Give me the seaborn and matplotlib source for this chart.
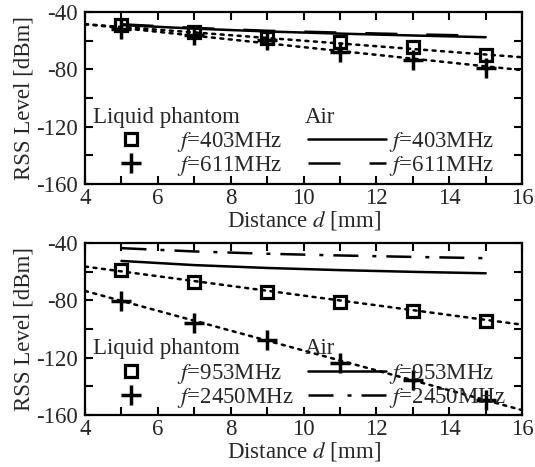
import seaborn as sns
import numpy as np
import matplotlib.pyplot as plt
from matplotlib.lines import Line2D
from matplotlib.ticker import MultipleLocator

sns.set_style("ticks")
plt.rcParams['font.family'] = ['Liberation Serif', 'DejaVu Serif']
plt.rcParams['mathtext.fontset'] = 'stix'
plt.rcParams['axes.unicode_minus'] = False

# measured points (distance in mm)
dist = [5, 7, 9, 11, 13, 15]
fit_x = [4, 16]

# upper panel
liq_403 = [-49, -54, -58, -61, -64.5, -70]
liq_611 = [-52, -56, -59.5, -68, -73.5, -79]
fit_403 = [-48.4, -71.5]
fit_611 = [-48.4, -80.5]
air_403 = [-49, -51.5, -53.5, -55, -56.3, -57.5]
air_611 = [-48.5, -51, -53, -54.3, -55.5, -56.5]

# lower panel
liq_953 = [-58.8, -67.4, -74, -81, -87.2, -94.2]
liq_2450 = [-80.5, -96, -107.7, -124, -135.6, -149.6]
fit_953 = [-56.5, -97]
fit_2450 = [-73.5, -156.5]
air_953 = [-52.6, -55.5, -57.5, -59, -60.2, -61.2]
air_2450 = [-43.7, -46, -47.6, -48.8, -49.8, -50.7]

panels = [
    (["403", "611"], liq_403, liq_611, fit_403, fit_611, air_403, air_611,
     (0, (12.8, 11.6))),
    (["953", "2450"], liq_953, liq_2450, fit_953, fit_2450, air_953, air_2450,
     (0, (10, 5.6, 1.6, 4))),
]

fs = 16.5
lw = 1.8
dot = (0, (1.2, 2.2))

fig = plt.figure(figsize=(5.35, 4.67), dpi=100)
boxes = [[0.159, 0.606, 0.817, 0.368], [0.159, 0.111, 0.817, 0.369]]

for box, (freqs, la, lb, fa, fb, aa, ab, ls2) in zip(boxes, panels):
    ax = fig.add_axes(box)
    sns.lineplot(x=fit_x, y=fa, ax=ax, color='black', lw=lw, linestyle=dot,
                 dash_capstyle='round')
    sns.lineplot(x=fit_x, y=fb, ax=ax, color='black', lw=lw, linestyle=dot,
                 dash_capstyle='round')
    sns.lineplot(x=dist, y=aa, ax=ax, color='black', lw=lw, linestyle='-')
    sns.lineplot(x=dist, y=ab, ax=ax, color='black', lw=lw, linestyle=ls2)
    ax.plot(dist, la, linestyle='none', marker='s', ms=9, mfc='none',
            mec='black', mew=2.3, zorder=5)
    ax.plot(dist, lb, linestyle='none', marker='+', ms=15, mec='black',
            mew=2.5, zorder=5)

    ax.set_xlim(4, 16)
    ax.set_ylim(-160, -40)
    ax.xaxis.set_major_locator(MultipleLocator(2))
    ax.xaxis.set_minor_locator(MultipleLocator(1))
    ax.yaxis.set_major_locator(MultipleLocator(40))
    ax.yaxis.set_minor_locator(MultipleLocator(20))
    ax.tick_params(which='both', direction='in', top=True, right=True,
                   length=6, width=1.5, labelsize=fs, color='black')
    ax.tick_params(axis='y', pad=5)
    ax.tick_params(axis='x', pad=3)
    for sp in ax.spines.values():
        sp.set_linewidth(1.6)
        sp.set_color('black')
    ax.set_xlabel('Distance $d$ [mm]', fontsize=fs, labelpad=0)
    ax.set_ylabel('RSS Level [dBm]', fontsize=fs, labelpad=1)

    h1 = [Line2D([], [], linestyle='none', marker='s', ms=9, mfc='none',
                 mec='black', mew=2.3),
          Line2D([], [], linestyle='none', marker='+', ms=15, mec='black',
                 mew=2.5)]
    h2 = [Line2D([], [], color='black', lw=lw, linestyle='-'),
          Line2D([], [], color='black', lw=lw, linestyle=ls2)]
    labels = ['$f$=%sMHz' % f for f in freqs]
    leg1 = ax.legend(h1, labels, loc='center left', bbox_to_anchor=(0.053, 0.172),
                     frameon=False, fontsize=fs, handlelength=2.0,
                     handletextpad=1.0, borderpad=0, borderaxespad=0,
                     labelspacing=0.0, numpoints=1)
    ax.add_artist(leg1)
    ax.legend(h2, labels, loc='center left', bbox_to_anchor=(0.51, 0.172),
              frameon=False, fontsize=fs, handlelength=3.4,
              handletextpad=0.15, borderpad=0, borderaxespad=0,
              labelspacing=0.0)
    ax.text(0.018, 0.385, 'Liquid phantom', transform=ax.transAxes,
            fontsize=fs, va='center', ha='left')
    ax.text(0.503, 0.385, 'Air', transform=ax.transAxes,
            fontsize=fs, va='center', ha='left')

fig.savefig('out.png', dpi=100)
